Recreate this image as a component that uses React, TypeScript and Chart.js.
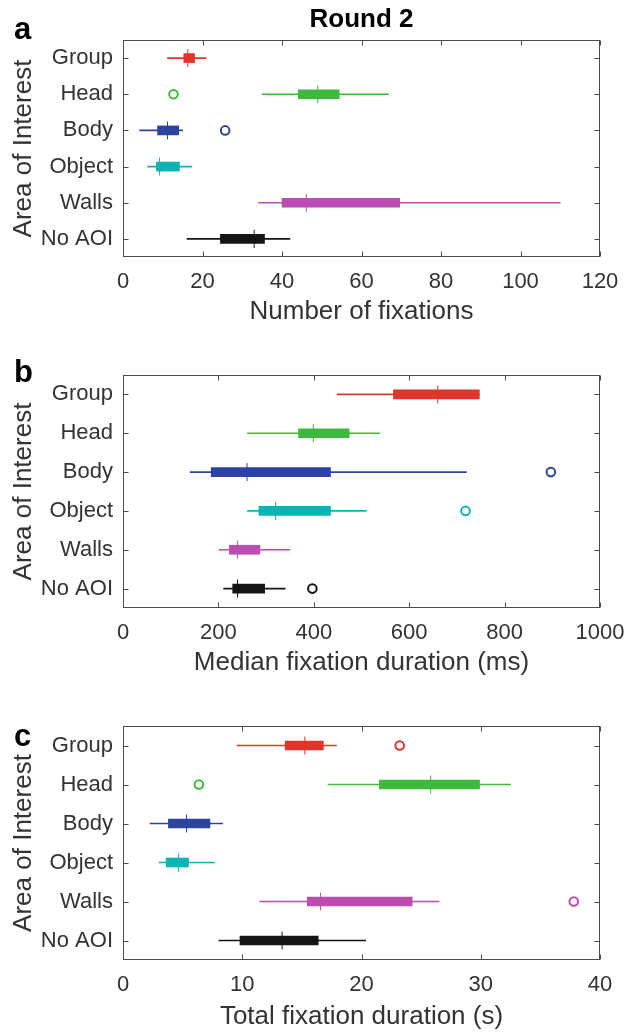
import React, { useEffect, useRef } from 'react';
import { Chart, registerables } from 'chart.js';

Chart.register(...registerables);

// ---------- shared ----------
const categories = ['Group', 'Head', 'Body', 'Object', 'Walls', 'No AOI'];
const categoryColors = ['#e0352a', '#3dba3d', '#2c44a0', '#0bb4b4', '#bb4db1', '#151515'];

// ---------- panel a : Number of fixations ----------
const countLow = [11.2, 35.0, 4.2, 6.2, 34.1, 16.1];
const countQ1 = [15.3, 44.1, 8.7, 8.4, 40.0, 24.5];
const countMedian = [16.3, 49.0, 11.2, 9.2, 46.1, 33.0];
const countQ3 = [18.0, 54.4, 14.0, 14.2, 69.6, 35.6];
const countHigh = [20.9, 66.8, 15.0, 17.3, 110.0, 42.0];
const countOutlierCats = ['Head', 'Body'];
const countOutlierVals = [12.7, 25.7];

// ---------- panel b : Median fixation duration (ms) ----------
const medLow = [449, 261, 141, 261, 201, 211];
const medQ1 = [567, 368, 185, 285, 223, 230];
const medMedian = [660, 399, 260, 320, 240, 240];
const medQ3 = [747, 474, 435, 435, 287, 297];
const medHigh = [747, 538, 720, 510, 350, 340];
const medOutlierCats = ['Body', 'Object', 'No AOI'];
const medOutlierVals = [897, 718, 397];

// ---------- panel c : Total fixation duration (s) ----------
const totLow = [9.56, 17.2, 2.27, 3.03, 11.46, 8.04];
const totQ1 = [13.6, 21.5, 3.81, 3.62, 15.45, 9.81];
const totMedian = [15.25, 25.8, 5.33, 4.65, 16.57, 13.34];
const totQ3 = [16.8, 29.9, 7.29, 5.49, 24.25, 16.37];
const totHigh = [17.9, 32.5, 8.35, 7.65, 26.5, 20.35];
const totOutlierCats = ['Group', 'Head', 'Walls'];
const totOutlierVals = [23.2, 6.36, 37.8];

const FONT = "'Liberation Sans', Arial, Helvetica, sans-serif";
const TEXT = '#333333';
const AXIS = '#4a4a4a';

const framePlugin = {
  id: 'matlabFrame',
  afterDatasetsDraw(chart: any) {
    const { ctx, chartArea, scales } = chart;
    const L = Math.floor(chartArea.left) + 0.5;
    const R = Math.ceil(chartArea.right) - 0.5;
    const T = Math.floor(chartArea.top) + 0.5;
    const B = Math.ceil(chartArea.bottom) - 0.5;
    const len = 5;
    ctx.save();
    ctx.strokeStyle = AXIS;
    ctx.lineWidth = 1;
    ctx.strokeRect(L, T, R - L, B - T);
    ctx.beginPath();
    scales.x.ticks.forEach((_t: any, i: number) => {
      const px = Math.round(scales.x.getPixelForTick(i)) + 0.5;
      ctx.moveTo(px, B); ctx.lineTo(px, B - len);
      ctx.moveTo(px, T); ctx.lineTo(px, T + len);
    });
    scales.y.ticks.forEach((_t: any, i: number) => {
      const py = Math.round(scales.y.getPixelForTick(i)) + 0.5;
      ctx.moveTo(L, py); ctx.lineTo(L + len, py);
      ctx.moveTo(R, py); ctx.lineTo(R - len, py);
    });
    ctx.stroke();
    ctx.restore();
  },
};

type PanelProps = {
  top: number;
  height: number;
  padTop: number;
  axisHeight: number;
  titleBottom: number;
  xMax: number;
  xStep: number;
  xTitle: string;
  low: number[];
  q1: number[];
  median: number[];
  q3: number[];
  high: number[];
  outCats: string[];
  outVals: number[];
  heading?: string;
};

function Panel(p: PanelProps) {
  const ref = useRef<HTMLCanvasElement | null>(null);
  useEffect(() => {
    if (!ref.current) return;
    const chart = new Chart(ref.current, {
      type: 'bar',
      data: {
        labels: categories,
        datasets: [
          {
            type: 'scatter',
            label: 'median',
            data: categories.map((c, i) => ({ x: p.median[i], y: c })),
            pointStyle: 'line',
            pointRotation: 90,
            pointRadius: 9,
            pointBorderWidth: 1,
            pointBorderColor: categoryColors,
            showLine: false,
            order: 0,
          } as any,
          {
            type: 'scatter',
            label: 'outliers',
            data: p.outCats.map((c, i) => ({ x: p.outVals[i], y: c })),
            pointStyle: 'circle',
            pointRadius: 4.3,
            pointBorderWidth: 2,
            pointBorderColor: p.outCats.map((c) => categoryColors[categories.indexOf(c)]),
            pointBackgroundColor: 'rgba(255,255,255,0)',
            showLine: false,
            order: 0,
          } as any,
          {
            type: 'bar',
            label: 'IQR',
            data: categories.map((_c, i) => [p.q1[i], p.q3[i]]),
            backgroundColor: categoryColors,
            borderWidth: 0,
            barThickness: 9,
            grouped: false,
            order: 1,
          } as any,
          {
            type: 'bar',
            label: 'whiskers',
            data: categories.map((_c, i) => [p.low[i], p.high[i]]),
            backgroundColor: categoryColors,
            borderWidth: 0,
            barThickness: 1,
            grouped: false,
            order: 2,
          } as any,
        ],
      },
      options: {
        animation: false,
        responsive: false,
        indexAxis: 'y',
        layout: { padding: { top: p.padTop, right: 38, bottom: 0, left: 0 } },
        plugins: {
          legend: { display: false },
          tooltip: { enabled: false },
          title: p.heading
            ? {
                display: true,
                text: p.heading,
                fullSize: false,
                color: '#000',
                font: { family: FONT, size: 26, weight: 'bold' },
                padding: { top: 4, bottom: 4.8 },
              }
            : { display: false },
        },
        scales: {
          x: {
            type: 'linear',
            min: 0,
            max: p.xMax,
            ticks: {
              stepSize: p.xStep,
              font: { family: FONT, size: 22 },
              color: TEXT,
              padding: 12,
              maxRotation: 0,
              autoSkip: false,
              callback: (v: any) => String(v),
            },
            grid: { display: false, drawTicks: false },
            border: { display: false },
            title: {
              display: true,
              text: p.xTitle,
              color: TEXT,
              font: { family: FONT, size: 26 },
              padding: { top: 0, bottom: p.titleBottom },
            },
            afterFit: (s: any) => {
              s.height = p.axisHeight;
            },
          },
          y: {
            type: 'category',
            offset: true,
            ticks: { font: { family: FONT, size: 22 }, color: TEXT, padding: 10 },
            grid: { display: false, drawTicks: false },
            border: { display: false },
            title: {
              display: true,
              text: 'Area of Interest',
              color: TEXT,
              font: { family: FONT, size: 26 },
              padding: { top: 8, bottom: 0 },
            },
            afterFit: (s: any) => {
              s.width = 123;
            },
          },
        },
      } as any,
      plugins: [framePlugin],
    });
    return () => chart.destroy();
  }, []);
  return (
    <canvas
      ref={ref}
      width={638}
      height={p.height}
      style={{ position: 'absolute', left: 0, top: p.top, width: 638, height: p.height, display: 'block' }}
    />
  );
}

const letterStyle = (top: number): React.CSSProperties => ({
  position: 'absolute',
  left: 14,
  top,
  fontFamily: FONT,
  fontWeight: 'bold',
  fontSize: 31,
  lineHeight: '31px',
  color: '#000',
});

export default function App() {
  return (
    <div style={{ position: 'absolute', left: 0, top: 0, width: 638, height: 1033, background: '#fff', overflow: 'hidden' }}>
      <Panel
        top={0}
        height={340}
        padTop={0}
        axisHeight={83}
        titleBottom={12.4}
        xMax={120}
        xStep={20}
        xTitle="Number of fixations"
        low={countLow}
        q1={countQ1}
        median={countMedian}
        q3={countQ3}
        high={countHigh}
        outCats={countOutlierCats}
        outVals={countOutlierVals}
        heading="Round 2"
      />
      <Panel
        top={340}
        height={350}
        padTop={35}
        axisHeight={82}
        titleBottom={11.4}
        xMax={1000}
        xStep={200}
        xTitle="Median fixation duration (ms)"
        low={medLow}
        q1={medQ1}
        median={medMedian}
        q3={medQ3}
        high={medHigh}
        outCats={medOutlierCats}
        outVals={medOutlierVals}
      />
      <Panel
        top={690}
        height={343}
        padTop={36}
        axisHeight={73}
        titleBottom={0.4}
        xMax={40}
        xStep={10}
        xTitle="Total fixation duration (s)"
        low={totLow}
        q1={totQ1}
        median={totMedian}
        q3={totQ3}
        high={totHigh}
        outCats={totOutlierCats}
        outVals={totOutlierVals}
      />
      <div style={letterStyle(13)}>a</div>
      <div style={letterStyle(356)}>b</div>
      <div style={letterStyle(720)}>c</div>
    </div>
  );
}
